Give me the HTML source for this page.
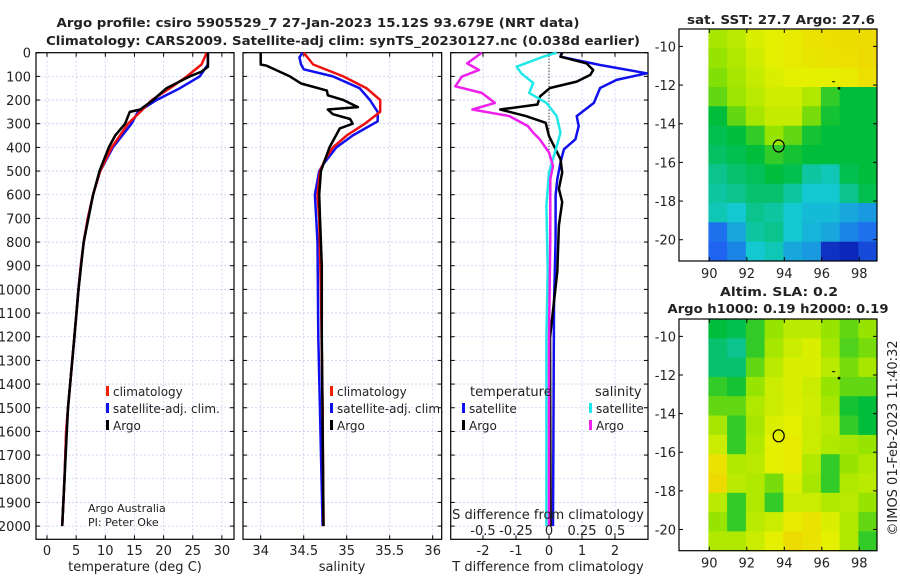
<!DOCTYPE html>
<html><head><meta charset="utf-8"><style>
body{margin:0;background:#fff;}
svg{display:block;font-family:"DejaVu Sans","Liberation Sans",sans-serif;}
</style></head><body>
<svg id="c" width="900" height="580" viewBox="0 0 900 580"></svg>
<script>
// ---- data ----
const tempDepth=[0,50,100,150,200,250,300,400,500,600,700,800,900,1000,1200,1500,1600,1800,2000];
const tempClim=[27.4,26.5,24,21.1,18,16,13.9,11.1,9.1,7.9,7,6.3,5.8,5.4,4.7,3.6,3.3,3.0,2.6];
const tempSat=[27.6,27.6,26.2,22.8,18.8,15.6,14.5,11.3,9.1,7.9,7,6.3,5.8,5.4,4.7,3.6,3.3,3.0,2.6];
const argoTDepth=[0,60,80,100,150,200,240,250,300,350,400,500,600,800,1000,1200,1500,2000];
const argoT=[27.6,27.6,26.5,24.5,20.5,18.2,16.0,14.2,13.4,11.7,10.6,9.0,7.9,6.3,5.4,4.7,3.6,2.6];
const salDepth=[0,50,100,150,200,250,300,350,400,450,500,600,700,1000,1500,2000];
const salClim=[34.50,34.61,34.96,35.23,35.39,35.39,35.21,35.0,34.84,34.75,34.69,34.66,34.68,34.70,34.72,34.73];
const salSatDepth=[0,20,50,70,100,150,200,250,290,350,400,470,500,600,800,1200,2000];
const salSat=[34.49,34.45,34.47,34.5,34.84,35.15,35.27,35.36,35.36,35.07,34.88,34.73,34.68,34.63,34.66,34.67,34.72];
const argoSDepth=[0,50,55,100,130,160,180,200,230,240,260,280,300,320,400,450,500,600,700,900,1200,2000];
const argoS=[34.0,34.0,34.07,34.34,34.47,34.77,34.78,34.96,35.13,34.78,34.84,35.04,35.07,34.92,34.8,34.75,34.7,34.68,34.69,34.71,34.71,34.73];
const dTSatDepth=[0,17,52,87,115,149,212,268,310,366,408,464,534,603,785,1064,2000];
const dTSat=[0.38,0.35,1.55,2.96,2.05,1.55,1.36,0.84,0.9,0.8,0.45,0.35,0.25,0.2,0.2,0.15,0.12];
const dTArgoDepth=[0,17,45,73,94,122,149,184,219,240,268,296,352,408,450,506,575,631,729,925,1204,2000];
const dTArgo=[0.4,0.35,1.14,1.34,1.25,0.84,0.03,-0.27,-0.35,-1.48,-0.7,-0.1,0,0.2,0.35,0.4,0.3,0.4,0.3,0.25,0.03,0.05];
const dSSatDepth=[0,17,59,87,128,170,212,268,338,422,506,645,925,1204,2000];
const dSSat=[0.058,-0.043,-0.245,-0.21,-0.12,-0.15,-0.02,0.058,0.087,0.045,0,-0.02,-0.01,-0.02,-0.02];
const dSArgoDepth=[0,45,73,101,142,170,212,240,268,310,338,366,422,478,534,785,1204,2000];
const dSArgo=[-0.51,-0.62,-0.53,-0.66,-0.71,-0.51,-0.41,-0.58,-0.3,-0.16,-0.12,-0.07,0.0,0.03,0.01,0.01,0.0,0.0];
const depthTicks=[0,100,200,300,400,500,600,700,800,900,1000,1100,1200,1300,1400,1500,1600,1700,1800,1900,2000];
const tTicks=[0,5,10,15,20,25,30];
const sTicks=[34,34.5,35,35.5,36];
const dTTicks=[-2,-1,0,1,2];
const dSTicks=[-0.5,-0.25,0,0.25,0.5];
const dSTickLabels=["-0.5","-0.25","0","0.25","0.5"];
const lonTicks=[90,92,94,96,98];
const latTicks=[-10,-12,-14,-16,-18,-20];
const sstGrid=[
[0.68,0.72,0.78,0.8,0.82,0.85,0.86,0.87,0.88],
[0.65,0.7,0.76,0.8,0.82,0.84,0.85,0.86,0.88],
[0.63,0.68,0.74,0.78,0.8,0.8,0.8,0.82,0.86],
[0.6,0.66,0.72,0.76,0.76,0.7,0.55,0.5,0.5],
[0.5,0.6,0.68,0.74,0.74,0.62,0.52,0.5,0.5],
[0.48,0.5,0.55,0.65,0.6,0.52,0.5,0.5,0.5],
[0.46,0.48,0.5,0.55,0.52,0.5,0.5,0.5,0.5],
[0.42,0.45,0.47,0.5,0.48,0.4,0.38,0.48,0.5],
[0.4,0.42,0.45,0.45,0.4,0.35,0.35,0.42,0.48],
[0.38,0.35,0.42,0.4,0.35,0.33,0.33,0.3,0.28],
[0.22,0.3,0.4,0.42,0.35,0.32,0.3,0.25,0.22],
[0.2,0.25,0.35,0.38,0.3,0.28,0.1,0.08,0.15]];
const slaGrid=[
[0.5,0.48,0.55,0.65,0.72,0.72,0.65,0.6,0.65],
[0.45,0.42,0.55,0.68,0.75,0.78,0.68,0.58,0.62],
[0.45,0.45,0.6,0.72,0.78,0.78,0.72,0.62,0.68],
[0.55,0.52,0.65,0.75,0.78,0.75,0.65,0.6,0.6],
[0.6,0.6,0.7,0.75,0.78,0.76,0.68,0.52,0.5],
[0.68,0.55,0.68,0.78,0.8,0.75,0.72,0.55,0.5],
[0.75,0.55,0.7,0.8,0.82,0.75,0.7,0.68,0.65],
[0.85,0.7,0.72,0.8,0.82,0.7,0.55,0.65,0.7],
[0.88,0.72,0.7,0.62,0.78,0.68,0.55,0.7,0.72],
[0.72,0.55,0.7,0.55,0.75,0.75,0.7,0.72,0.65],
[0.65,0.55,0.72,0.75,0.82,0.85,0.78,0.7,0.6],
[0.7,0.7,0.75,0.8,0.88,0.85,0.8,0.7,0.55]];
const floatLon=[93.7], floatLat=[-15.15];

// ---- helpers ----
const NS="http://www.w3.org/2000/svg", svg=document.getElementById('c');
function mk(tag,attrs,parent){const e=document.createElementNS(NS,tag);for(const k in attrs)e.setAttribute(k,attrs[k]);(parent||svg).appendChild(e);return e;}
function txt(x,y,s,opt,name){const e=mk('text',Object.assign({x:x,y:y,'font-size':12,fill:'#222'},opt||{}));e.textContent=s;


return e;}
const PT=52.7, PB=539.3, dy=d=>PT+d*0.2367;
function panel(x0,x1,xf,xt,name){
  const g=mk('g',{});
  
  
  depthTicks.forEach(d=>{mk('line',{x1:x0,x2:x1,y1:dy(d),y2:dy(d),stroke:'#c4cdef','stroke-width':0.8,'stroke-dasharray':'2,2'},g);
    mk('line',{x1:x0,x2:x0+4,y1:dy(d),y2:dy(d),stroke:'#000'},g);mk('line',{x1:x1-4,x2:x1,y1:dy(d),y2:dy(d),stroke:'#000'},g);});
  xt.forEach(v=>{const x=xf(v);mk('line',{x1:x,x2:x,y1:PT,y2:PB,stroke:'#c4cdef','stroke-width':0.8,'stroke-dasharray':'2,2'},g);
    mk('line',{x1:x,x2:x,y1:PB-4,y2:PB,stroke:'#000'},g);mk('line',{x1:x,x2:x,y1:PT,y2:PT+4,stroke:'#000'},g);});
  mk('rect',{x:x0,y:PT,width:x1-x0,height:PB-PT,fill:'none',stroke:'#000','stroke-width':1.2},g);
  return g;}
function line(xs,ds,xf,color,name,w){
  const p=xs.map((v,i)=>(i?'L':'M')+xf(v).toFixed(1)+','+dy(ds[i]).toFixed(1)).join('');
  const e=mk('path',{d:p,fill:'none',stroke:color,'stroke-width':w||2.5,'stroke-linejoin':'round'});
  
  }
function legend(x,y,color,label,name){
  const e=mk('rect',{x:x,y:y-10,width:3,height:10,fill:color});
  
  
  txt(x+7,y,label,{},name);}

// titles
txt(318,27,'Argo profile: csiro 5905529_7 27-Jan-2023 15.12S 93.679E (NRT data)',{'text-anchor':'middle','font-weight':'bold',textLength:523,lengthAdjust:'spacingAndGlyphs'},'title-line-1');
txt(343,45,'Climatology: CARS2009. Satellite-adj clim: synTS_20230127.nc (0.038d earlier)',{'text-anchor':'middle','font-weight':'bold',textLength:594,lengthAdjust:'spacingAndGlyphs'},'title-line-2');

// depth labels
depthTicks.forEach(d=>txt(31,dy(d)+5,String(d),{'text-anchor':'end','font-size':13},'depth-tick-label'));

// panel 1 temperature
const tx=v=>47+5.83*v;
panel(36,234,tx,tTicks,'temperature-panel');
tTicks.forEach(v=>txt(tx(v),555,String(v),{'text-anchor':'middle','font-size':13},'temperature-tick-label'));
txt(135,571,'temperature (deg C)',{'text-anchor':'middle','font-size':13},'temperature-axis-title');
line(tempSat,tempDepth,tx,'#1010ee','temperature-satellite-line');
line(tempClim,tempDepth,tx,'#ee1010','temperature-climatology-line');
line(argoT,argoTDepth,tx,'#000','temperature-argo-line');
legend(106,396,'#ee2000','climatology','legend-climatology');
legend(106,413,'#1010ee','satellite-adj. clim.','legend-satellite-clim');
legend(106,430,'#000','Argo','legend-argo');
txt(88,512,'Argo Australia',{'font-size':11},'credit-argo-australia');
txt(88,526,'PI: Peter Oke',{'font-size':11},'credit-pi');

// panel 2 salinity
const sx=v=>260.7+86*(v-34);
panel(243,441.7,sx,sTicks,'salinity-panel');
sTicks.forEach(v=>txt(sx(v),555,String(v),{'text-anchor':'middle','font-size':13},'salinity-tick-label'));
txt(342,571,'salinity',{'text-anchor':'middle','font-size':13},'salinity-axis-title');
line(salSat,salSatDepth,sx,'#1010ee','salinity-satellite-line');
line(salClim,salDepth,sx,'#ee1010','salinity-climatology-line');
line(argoS,argoSDepth,sx,'#000','salinity-argo-line');
legend(330,396,'#ee2000','climatology','legend-climatology-2');
legend(330,413,'#1010ee','satellite-adj. clim.','legend-satellite-clim-2');
legend(330,430,'#000','Argo','legend-argo-2');

// panel 3 differences
const dtx=v=>549+33*v, dsx=v=>549+132*v;
panel(450.7,648,dtx,dTTicks,'difference-panel');
mk('line',{x1:549,x2:549,y1:PT,y2:155,stroke:'#000','stroke-dasharray':'1,2'});
line(dTSat,dTSatDepth,dtx,'#1010ee','temperature-diff-satellite-line');
line(dTArgo,dTArgoDepth,dtx,'#000','temperature-diff-argo-line');
line(dSSat,dSSatDepth,dsx,'#20e8e8','salinity-diff-satellite-line');
line(dSArgo,dSArgoDepth,dsx,'#ee20ee','salinity-diff-argo-line');
dTTicks.forEach(v=>txt(dtx(v),555,String(v),{'text-anchor':'middle','font-size':13},'temp-diff-tick-label'));
dSTicks.forEach((v,i)=>txt(dsx(v),535,dSTickLabels[i],{'text-anchor':'middle','font-size':13},'sal-diff-tick-label'));
txt(548,519,'S difference from climatology',{'text-anchor':'middle','font-size':13},'sal-diff-axis-title');
txt(548,571,'T difference from climatology',{'text-anchor':'middle','font-size':13},'temp-diff-axis-title');
txt(470,396,'temperature',{'font-size':13},'legend-temperature-heading');
legend(462,413,'#1010ee','satellite','legend-temp-satellite');
legend(462,430,'#000','Argo','legend-temp-argo');
txt(595,396,'salinity',{'font-size':13},'legend-salinity-heading');
legend(589,413,'#20e8e8','satellite','legend-sal-satellite');
legend(589,430,'#ee20ee','Argo','legend-sal-argo');

// maps
const cmapStops=[[0,[0,0,150]],[0.2,[30,100,240]],[0.35,[20,200,210]],[0.5,[0,190,60]],[0.65,[150,228,0]],[0.8,[228,240,0]],[1,[250,185,0]]];
function cmap(v){for(let i=1;i<cmapStops.length;i++){const a=cmapStops[i-1],b=cmapStops[i];if(v<=b[0]){const t=(v-a[0])/(b[0]-a[0]);
  return 'rgb('+a[1].map((c,k)=>Math.round(c+(b[1][k]-c)*t)).join(',')+')';}}return 'rgb(250,185,0)';}
function map(top,bottom,latTop,latBot,grid,name){
  const lx=v=>709.3+18.75*(v-90), ly=v=>top+(latTop-v)*(bottom-top)/(latTop-latBot);
  const g=mk('g',{});
  
  
  const lon0=89.95, lat0=-9.1;
  grid.forEach((row,r)=>row.forEach((v,c)=>{
    const x=lx(lon0+c), x2=Math.min(lx(lon0+c+1),876), y=ly(lat0-r), y2=ly(Math.max(lat0-r-1,latBot));
    const e=mk('rect',{x:x.toFixed(1),y:y.toFixed(1),width:(x2-x+0.5).toFixed(1),height:(y2-y+0.5).toFixed(1),fill:cmap(v)},g);
    
    }));
  mk('rect',{x:679,y:top,width:198,height:bottom-top,fill:'none',stroke:'#000','stroke-width':1.2},g);
  lonTicks.forEach(v=>{mk('line',{x1:lx(v),x2:lx(v),y1:top,y2:top+4,stroke:'#000'},g);mk('line',{x1:lx(v),x2:lx(v),y1:bottom-4,y2:bottom,stroke:'#000'},g);
    txt(lx(v),bottom+17,String(v),{'text-anchor':'middle','font-size':13},name+'-lon-label');});
  latTicks.forEach(v=>{mk('line',{x1:679,x2:683,y1:ly(v),y2:ly(v),stroke:'#000'},g);mk('line',{x1:873,x2:877,y1:ly(v),y2:ly(v),stroke:'#000'},g);
    txt(676,ly(v)+5,String(v),{'text-anchor':'end','font-size':13},name+'-lat-label');});
  const ci=mk('ellipse',{cx:lx(floatLon[0]),cy:ly(floatLat[0]),rx:5.5,ry:6,fill:'none',stroke:'#000','stroke-width':1.2},g);
  
  
  mk('rect',{x:lx(96.55),y:ly(-11.8),width:3,height:1,fill:'#000'},g);
  mk('rect',{x:lx(96.85),y:ly(-12.15)-1,width:2.5,height:2.5,fill:'#000'},g);
}
map(29,261,-9.1,-21.1,sstGrid,'sst-map');
txt(781,24,'sat. SST: 27.7 Argo: 27.6',{'text-anchor':'middle','font-weight':'bold',textLength:188,lengthAdjust:'spacingAndGlyphs'},'sst-map-title');
map(319,550.7,-9.1,-21.1,slaGrid,'sla-map');
txt(779,296,'Altim. SLA: 0.2',{'text-anchor':'middle','font-weight':'bold',textLength:118,lengthAdjust:'spacingAndGlyphs'},'sla-map-title');
txt(778,313,'Argo h1000: 0.19 h2000: 0.19',{'text-anchor':'middle','font-weight':'bold',textLength:221,lengthAdjust:'spacingAndGlyphs'},'sla-map-subtitle');
txt(0,0,'©IMOS 01-Feb-2023 11:40:32',{'text-anchor':'middle','font-size':13,transform:'translate(897,438) rotate(-90)'},'imos-timestamp');
</script>
</body></html>
